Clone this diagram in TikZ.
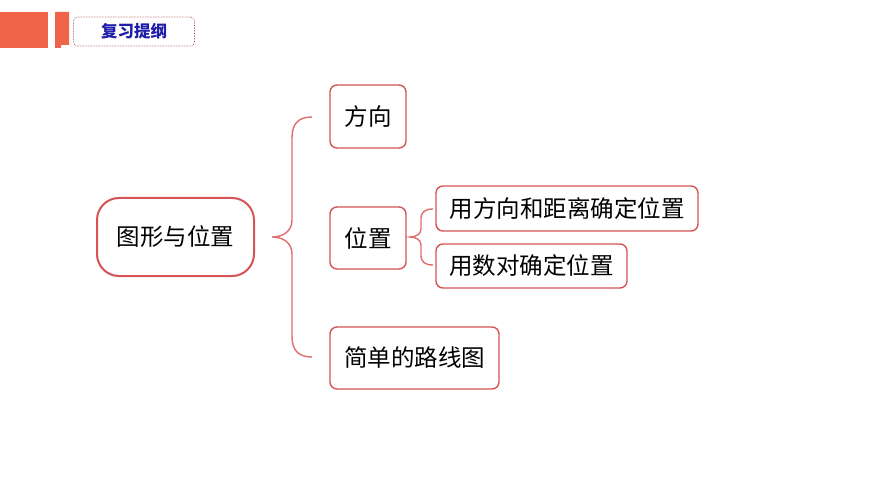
\documentclass[tikz,border=0pt]{standalone}
\usepackage{fontspec}
\newfontfamily\cjk{Noto Sans CJK SC}
\definecolor{bandorange}{RGB}{240,101,74}
\definecolor{boxred}{RGB}{214,84,84}
\definecolor{bracered}{RGB}{224,110,110}
\definecolor{headblue}{RGB}{30,30,170}
\tikzset{
  topicbox/.style={draw=boxred, line width=1.4pt, rounded corners=7pt, fill=white,
    text=black, font=\cjk\fontsize{23.5}{26}\selectfont, inner sep=0pt, anchor=center},
  mainbox/.style={draw=boxred, line width=2pt, rounded corners=22pt, fill=white,
    text=black, font=\cjk\fontsize{23.5}{27}\selectfont, inner sep=0pt},
  bracepath/.style={draw=bracered, line width=1.4pt},
}
\begin{document}
\begin{tikzpicture}[x=1pt,y=-1pt]
\useasboundingbox[fill=white] (0,0) rectangle (870,489);
% header
\fill[bandorange] (0,12) rectangle (48,48);
\fill[bandorange] (55,12) -- (69,12) -- (69,45) -- (61,45) -- (61,48) -- (55,48) -- cycle;
\node[draw=boxred!80!black, densely dotted, line width=0.6pt, rounded corners=4pt,
  minimum width=121pt, minimum height=29pt, inner sep=0pt,
  text=headblue, font=\cjk\bfseries\fontsize{16.5}{18}\selectfont] (head) at (134,31.5) {复习提纲};
% main node
\node[mainbox, minimum width=157pt, minimum height=78pt] (main) at (175.5,237) {图形与位置};
% children
\node[topicbox, minimum width=76pt, minimum height=63pt] (dir) at (368,116.5) {方向};
\node[topicbox, minimum width=76pt, minimum height=62pt] (pos) at (368,238) {位置};
\node[topicbox, minimum width=169pt, minimum height=62pt] (route) at (414.5,358) {简单的路线图};
\node[topicbox, minimum width=262pt, minimum height=45pt] (pa) at (567,208.5) {用方向和距离确定位置};
\node[topicbox, minimum width=191pt, minimum height=44pt] (pb) at (531.5,266) {用数对确定位置};
% big brace
\coordinate (btip) at (272,237);
\coordinate (btop) at (312,117);
\coordinate (bbot) at (312,357);
\draw[bracepath] (btop) .. controls (298,117) and (292,124) .. (292,138)
  -- (292,220) .. controls (292,232) and (282,237) .. (btip)
  .. controls (282,237) and (292,242) .. (292,254)
  -- (292,336) .. controls (292,350) and (298,357) .. (bbot);
% small brace
\coordinate (stip) at (410,237);
\coordinate (stop) at (433,209);
\coordinate (sbot) at (433,265);
\draw[bracepath] (stop) .. controls (425,209) and (421,212) .. (421,219)
  -- (421,229) .. controls (421,234) and (416,237) .. (stip)
  .. controls (416,237) and (421,240) .. (421,245)
  -- (421,255) .. controls (421,262) and (425,265) .. (sbot);
\end{tikzpicture}
\end{document}
